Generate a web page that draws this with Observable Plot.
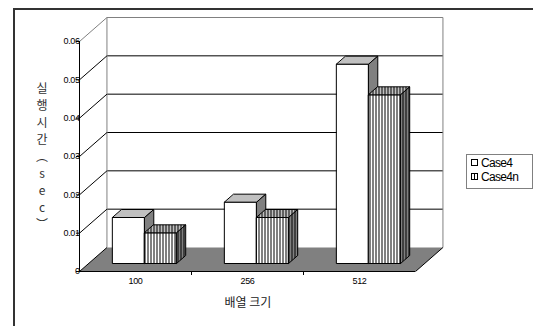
<!DOCTYPE html>
<html><head><meta charset="utf-8">
<script src="https://cdn.jsdelivr.net/npm/d3@7"></script>
<script src="https://cdn.jsdelivr.net/npm/@observablehq/plot@0.6"></script>
<style>
body{margin:0;background:#fff;}
#wrap{position:relative;width:533px;height:326px;overflow:hidden;background:#fff;}
#frame{position:absolute;left:13px;top:8px;width:700px;height:500px;border-left:2px solid #333;border-top:2px solid #333;}
#chart{position:absolute;left:0;top:0;}
#ylab{position:absolute;left:34px;top:79px;width:16px;font-family:"Noto Sans CJK KR";font-size:12px;color:#333;text-align:center;}
#ylab div{height:17px;line-height:17px;}
#xlab{position:absolute;left:198px;top:294px;width:100px;text-align:center;font-family:"Noto Sans CJK KR";font-size:12px;line-height:16px;color:#222;}
#legend{position:absolute;left:466px;top:154px;width:65px;height:33px;border:1px solid #808080;font-family:"Liberation Sans";font-size:12px;letter-spacing:-0.7px;color:#000;}
#legend .row{display:flex;align-items:center;height:13px;margin-top:1px;}
#legend svg{margin:0 3px 0 4px;}
</style></head>
<body><div id="wrap"><div id="frame"></div><div id="chart"></div><div id="ylab"></div><div id="xlab"></div><div id="legend"></div></div>
<script>
const categories = ["100", "256", "512"];
const seriesNames = ["Case4", "Case4n"];
const case4 = [0.012, 0.016, 0.052];
const case4n = [0.008, 0.012, 0.044];
const yTicks = [0, 0.01, 0.02, 0.03, 0.04, 0.05, 0.06];
const yTickLabels = ["0", "0.01", "0.02", "0.03", "0.04", "0.05", "0.06"];
const xTitle = "배열 크기";
const yTitle = ["실", "행", "시", "간", "︵", "s", "e", "c", "︶"];

// oblique 3D projection expressed in data units
const N = categories.length;
const YMAX = yTicks[yTicks.length - 1];
const DX = 0.245, DY = 0.00626, Z0 = 1 / 3, Z1 = 2 / 3;
const SLOTS = [[0.215, 0.5], [0.5, 0.785]];
const P = (u, v, z) => ({x: u + z * DX, y: v + z * DY});

const fills = [
  {front: "white", top: "#c0c0c0", side: "#808080"},
  {front: "url(#stW)", top: "url(#stL)", side: "url(#stD)"}
];

const faces = [];
[case4, case4n].forEach((vals, s) => {
  vals.forEach((v, i) => {
    const u0 = i + SLOTS[s][0], u1 = i + SLOTS[s][1];
    const add = (face, pts) => pts.forEach(p => faces.push({id: `${s}-${i}-${face}`, s, face, ...p}));
    add("front", [P(u0, 0, Z0), P(u1, 0, Z0), P(u1, v, Z0), P(u0, v, Z0)]);
    add("top", [P(u0, v, Z0), P(u1, v, Z0), P(u1, v, Z1), P(u0, v, Z1)]);
    add("side", [P(u1, 0, Z0), P(u1, 0, Z1), P(u1, v, Z1), P(u1, v, Z0)]);
  });
});

const floor = [P(0, 0, 0), P(N, 0, 0), P(N, 0, 1), P(0, 0, 1)];
const inner = yTicks.filter(d => d > 0 && d < YMAX);

const barMarks = [];
[0, 1].forEach(s => ["front", "top", "side"].forEach(face => {
  barMarks.push(Plot.line(faces.filter(d => d.s === s && d.face === face), {
    x: "x", y: "y", z: "id", curve: "linear-closed",
    fill: fills[s][face], stroke: "black", strokeWidth: 1
  }));
}));

const chart = Plot.plot({
  width: 533, height: 326,
  marginLeft: 79, marginRight: 118, marginTop: 41, marginBottom: 55,
  x: {domain: [0, N]},
  y: {domain: [0, YMAX]},
  style: {fontFamily: "Liberation Sans", fontSize: "9px", color: "black", background: "transparent", letterSpacing: "-0.4px"},
  marks: [
    // back wall gridlines
    Plot.link(inner, {x1: () => P(0, 0, 1).x, x2: () => P(N, 0, 1).x, y1: d => P(0, d, 1).y, y2: d => P(0, d, 1).y, stroke: "black"}),
    Plot.link([YMAX], {x1: () => P(0, 0, 1).x, x2: () => P(N, 0, 1).x, y1: d => P(0, d, 1).y, y2: d => P(0, d, 1).y, stroke: "#808080"}),
    Plot.link([0, N], {x1: d => P(d, 0, 1).x, x2: d => P(d, YMAX, 1).x, y1: () => P(0, 0, 1).y, y2: () => P(0, YMAX, 1).y, stroke: "#808080"}),
    // floor
    Plot.line(floor, {x: "x", y: "y", curve: "linear-closed", fill: "#808080", stroke: "none"}),
    // side wall diagonals
    Plot.link(yTicks.filter(d => d < YMAX), {x1: () => 0, y1: d => d, x2: () => P(0, 0, 1).x, y2: d => P(0, d, 1).y, stroke: "black"}),
    Plot.link([YMAX], {x1: () => 0, y1: d => d, x2: () => P(0, 0, 1).x, y2: d => P(0, d, 1).y, stroke: "#808080"}),
    // front axis lines and floor edge
    Plot.ruleX([0], {y1: 0, y2: YMAX, stroke: "black"}),
    Plot.ruleY([0], {x1: 0, x2: N, stroke: "black"}),
    Plot.link([N], {x1: d => d, y1: () => 0, x2: d => P(d, 0, 1).x, y2: d => P(d, 0, 1).y, stroke: "black"}),
    ...barMarks,
    Plot.axisY({ticks: yTicks, tickFormat: d => yTickLabels[yTicks.indexOf(d)], tickSize: 3, tickPadding: -3, label: null}),
    Plot.axisX({ticks: d3.range(1, N), tickFormat: () => "", tickSize: 4, label: null}),
    Plot.axisX({ticks: categories.map((c, i) => i + 0.5), tickFormat: d => categories[Math.floor(d)], tickSize: 0, tickPadding: 6, label: null})
  ]
});

const ns = "http://www.w3.org/2000/svg";
const defs = document.createElementNS(ns, "defs");
defs.innerHTML = [["stW", "white"], ["stL", "#c0c0c0"], ["stD", "#808080"]].map(([id, bg]) =>
  `<pattern id="${id}" patternUnits="userSpaceOnUse" width="3" height="4"><rect width="3" height="4" fill="${bg}"/><rect x="0" width="1" height="4" fill="black"/></pattern>`).join("");
chart.insertBefore(defs, chart.firstChild);
document.getElementById("chart").appendChild(chart);

document.getElementById("ylab").innerHTML = yTitle.map(c => `<div>${c}</div>`).join("");
document.getElementById("xlab").textContent = xTitle;
document.getElementById("legend").innerHTML = seriesNames.map((name, s) =>
  `<div class="row"><svg width="7" height="7"><rect x="0.5" y="0.5" width="6" height="6" fill="${s ? "url(#stW)" : "white"}" stroke="black"/></svg><span>${name}</span></div>`).join("");
</script>
</body></html>
